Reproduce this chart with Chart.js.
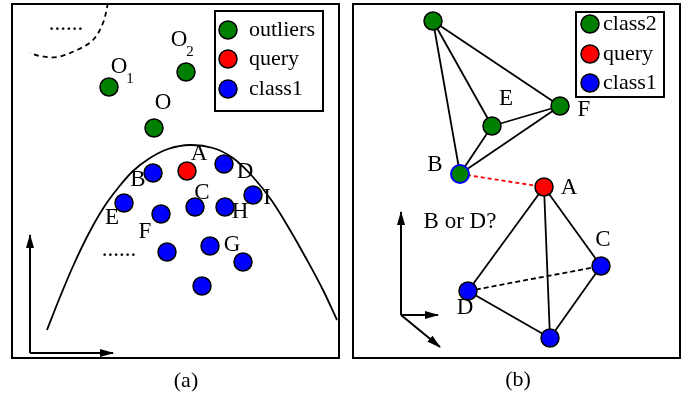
<!DOCTYPE html>
<html lang="en">
<head>
<meta charset="UTF-8">
<title>Outliers vs. graph neighbours</title>
<style>
  body { margin: 0; background: #fff; }
  canvas { display: block; }
</style>
</head>
<body>
<canvas id="diagram" width="694" height="398"></canvas>
<script src="https://cdn.jsdelivr.net/npm/chart.js"></script>
<script>
// ---- panel (a): feature space ----
const outliersA = [{x:109,y:87},{x:186,y:72},{x:154,y:128}];
const queryA = [{x:187,y:171}];
const class1A = [
  {x:153,y:173},{x:224,y:164},{x:124,y:203},{x:161,y:214},{x:195,y:207},{x:225,y:207},
  {x:253,y:195},{x:167,y:252},{x:210,y:246},{x:243,y:262},{x:202,y:286}
];
const boundaryA = [
  {x:47,y:330},{x:60,y:297},{x:74,y:264},{x:89,y:233},{x:104,y:207},{x:118,y:188},
  {x:133,y:171},{x:150,y:158},{x:168,y:149},{x:190,y:145},{x:213,y:148},{x:233,y:158},
  {x:253,y:177},{x:272,y:201},{x:290,y:230},{x:307,y:260},{x:323,y:290},{x:337,y:320}
];
const farClusterA = [
  {x:108,y:3},{x:103,y:23},{x:93,y:40},{x:77,y:50},{x:57,y:57},{x:40,y:56},{x:30,y:53}
];
const labelsA = [
  {t:'O', x:119, y:67}, {t:'O', x:179, y:40}, {t:'O', x:163, y:103},
  {t:'A', x:199, y:154}, {t:'D', x:245, y:172}, {t:'B', x:138, y:180},
  {t:'E', x:112, y:218}, {t:'F', x:145, y:232}, {t:'C', x:202, y:193},
  {t:'H', x:240, y:212}, {t:'I', x:267, y:198}, {t:'G', x:232, y:245},
  {t:'......', x:119, y:250}, {t:'......', x:66, y:24}
];
const subscriptsA = [{t:'1', x:130, y:79}, {t:'2', x:190, y:52}];
const legendLabelsA = ['outliers', 'query', 'class1'];

// ---- panel (b): graph ----
const nodesB = {
  top:[433,21], E:[492,126], F:[560,106], B:[460,174],
  A:[544,187], C:[601,266], D:[468,291], bottom:[550,338]
};
const class2B = ['top', 'E', 'F'];
const bridgeB = ['B'];
const queryB = ['A'];
const class1B = ['C', 'D', 'bottom'];
const edgesB = [
  ['top','E'],['top','F'],['top','B'],['E','F'],['E','B'],['F','B'],
  ['A','D'],['A','C'],['A','bottom'],['D','bottom'],['C','bottom']
];
const dashedEdgesB = [['D','C']];
const queryLinkB = [['B','A']];
const labelsB = [
  {t:'E', x:506, y:99}, {t:'F', x:584, y:110}, {t:'B', x:435, y:165},
  {t:'A', x:569, y:188}, {t:'C', x:603, y:240}, {t:'D', x:465, y:308},
  {t:'B or D?', x:460, y:222}
];
const legendLabelsB = ['class2', 'query', 'class1'];

// axis arrows: [from, to]
const arrows = [
  [[30,353],[30,235]], [[30,353],[113,353]],
  [[401,315],[401,212]], [[401,315],[438,315]], [[401,315],[440,347]]
];

const panels = [
  {x0:12, y0:4, x1:339, y1:358, caption:'(a)', cx:186, cy:381},
  {x0:353, y0:4, x1:680, y1:358, caption:'(b)', cx:518, cy:380}
];
const legends = [
  {x0:215, y0:11, x1:323, y1:111, mx:228, tx:249, ys:[30,59,89], labels:legendLabelsA},
  {x0:576, y0:12, x1:664, y1:97, mx:590, tx:603, ys:[24,54,83], labels:legendLabelsB}
];

const GREEN = '#007f00', RED = '#ff0000', BLUE = '#0000ff';
const legendColors = [[GREEN, RED, BLUE], [GREEN, RED, BLUE]];
const SERIF = '"Liberation Serif", "Times New Roman", serif';

const pt = n => ({x: nodesB[n][0], y: nodesB[n][1]});

function pointSet(data, color, border) {
  return {
    type: 'scatter', data: data, order: 0,
    backgroundColor: color, borderColor: border || '#000',
    borderWidth: 1.5, pointRadius: 9, pointHoverRadius: 9
  };
}
function lineSet(data, color, width, dash, tension) {
  return {
    type: 'line', data: data, order: 1, showLine: true, fill: false,
    borderColor: color, borderWidth: width, borderDash: dash || [],
    pointRadius: 0, tension: tension || 0
  };
}

const datasets = [];
datasets.push(lineSet(boundaryA, '#000', 1.8, [], 0.35));
datasets.push(lineSet(farClusterA, '#000', 1.8, [5, 4], 0.35));
edgesB.forEach(e => datasets.push(lineSet([pt(e[0]), pt(e[1])], '#000', 1.8)));
dashedEdgesB.forEach(e => datasets.push(lineSet([pt(e[0]), pt(e[1])], '#000', 1.8, [5, 3])));
queryLinkB.forEach(e => datasets.push(lineSet([pt(e[0]), pt(e[1])], RED, 1.8, [4, 3])));
arrows.forEach(a => datasets.push(lineSet([{x:a[0][0], y:a[0][1]}, {x:a[1][0], y:a[1][1]}], '#000', 2)));
datasets.push(pointSet(outliersA, GREEN));
datasets.push(pointSet(queryA, RED));
datasets.push(pointSet(class1A, BLUE));
datasets.push(pointSet(class2B.map(pt), GREEN));
datasets.push(Object.assign(pointSet(bridgeB.map(pt), GREEN, BLUE), {borderWidth: 2}));
datasets.push(pointSet(queryB.map(pt), RED));
datasets.push(pointSet(class1B.map(pt), BLUE));

// boxes, legends, arrowheads and text
const decorations = {
  id: 'decorations',
  afterDatasetsDraw(chart) {
    const ctx = chart.ctx;
    const px = v => chart.scales.x.getPixelForValue(v);
    const py = v => chart.scales.y.getPixelForValue(v);
    ctx.save();
    ctx.strokeStyle = '#000';
    ctx.fillStyle = '#000';

    // panel frames and captions
    panels.forEach(p => {
      ctx.lineWidth = 2;
      ctx.strokeRect(px(p.x0), py(p.y0), px(p.x1) - px(p.x0), py(p.y1) - py(p.y0));
      ctx.font = '22px ' + SERIF;
      ctx.textAlign = 'center';
      ctx.textBaseline = 'middle';
      ctx.fillText(p.caption, px(p.cx), py(p.cy));
    });

    // arrowheads
    arrows.forEach(a => {
      const x0 = px(a[0][0]), y0 = py(a[0][1]), x1 = px(a[1][0]), y1 = py(a[1][1]);
      const ang = Math.atan2(y1 - y0, x1 - x0);
      const L = 13, W = 4;
      const bx = x1 - L * Math.cos(ang), by = y1 - L * Math.sin(ang);
      ctx.beginPath();
      ctx.moveTo(x1 + Math.cos(ang), y1 + Math.sin(ang));
      ctx.lineTo(bx - W * Math.sin(ang), by + W * Math.cos(ang));
      ctx.lineTo(bx + W * Math.sin(ang), by - W * Math.cos(ang));
      ctx.closePath();
      ctx.fill();
    });

    // legends
    legends.forEach((lg, i) => {
      ctx.fillStyle = '#fff';
      ctx.fillRect(px(lg.x0), py(lg.y0), px(lg.x1) - px(lg.x0), py(lg.y1) - py(lg.y0));
      ctx.lineWidth = 2;
      ctx.strokeRect(px(lg.x0), py(lg.y0), px(lg.x1) - px(lg.x0), py(lg.y1) - py(lg.y0));
      lg.labels.forEach((t, k) => {
        ctx.beginPath();
        ctx.arc(px(lg.mx), py(lg.ys[k]), 9, 0, Math.PI * 2);
        ctx.fillStyle = legendColors[i][k];
        ctx.fill();
        ctx.lineWidth = 1.5;
        ctx.stroke();
        ctx.fillStyle = '#000';
        ctx.font = '22px ' + SERIF;
        ctx.textAlign = 'left';
        ctx.textBaseline = 'middle';
        ctx.fillText(t, px(lg.tx), py(lg.ys[k]));
      });
    });

    // point labels
    ctx.fillStyle = '#000';
    ctx.textAlign = 'center';
    ctx.textBaseline = 'middle';
    ctx.font = '23px ' + SERIF;
    labelsA.concat(labelsB).forEach(l => ctx.fillText(l.t, px(l.x), py(l.y)));
    ctx.font = '15px ' + SERIF;
    subscriptsA.forEach(l => ctx.fillText(l.t, px(l.x), py(l.y)));
    ctx.restore();
  }
};

new Chart(document.getElementById('diagram'), {
  data: { datasets: datasets },
  options: {
    responsive: false,
    animation: false,
    events: [],
    layout: { padding: 0, autoPadding: false },
    plugins: { legend: { display: false }, tooltip: { enabled: false } },
    scales: {
      x: { type: 'linear', min: 0, max: 694, display: false },
      y: { type: 'linear', min: 0, max: 398, reverse: true, display: false }
    }
  },
  plugins: [decorations]
});
</script>
</body>
</html>
